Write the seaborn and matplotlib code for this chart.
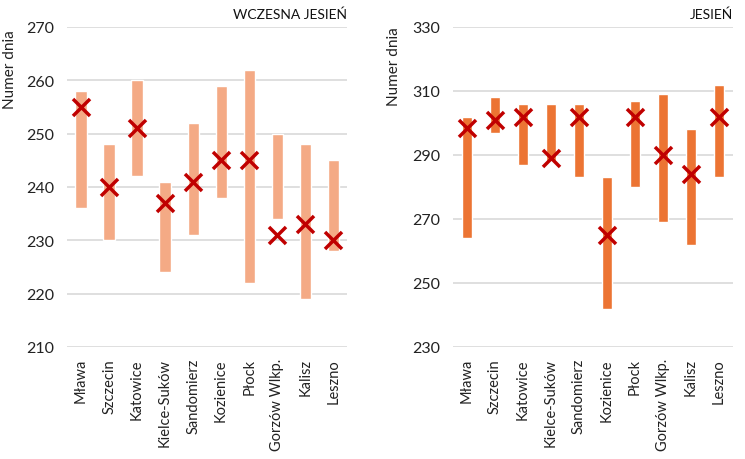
import numpy as np
import pandas as pd
import matplotlib
matplotlib.use("Agg")
import matplotlib.pyplot as plt
import seaborn as sns

stations = ["Mława", "Szczecin", "Katowice", "Kielce-Suków", "Sandomierz",
            "Kozienice", "Płock", "Gorzów Wlkp.", "Kalisz", "Leszno"]

# wczesna jesień: min, max, mean (day of year)
early_min = [236, 230, 242, 224, 231, 238, 222, 234, 219, 228]
early_max = [258, 248, 260, 241, 252, 259, 262, 250, 248, 245]
early_mean = [255, 240, 251, 237, 241, 245, 245, 231, 233, 230]

# jesień
autumn_min = [264, 297, 287, 288, 283, 242, 280, 269, 262, 283]
autumn_max = [302, 308, 306, 306, 306, 283, 307, 309, 298, 312]
autumn_mean = [298.5, 301, 302, 289, 302, 265, 302, 290, 284, 302]

sns.set_style("white")
plt.rcParams['font.family'] = ['Lato', 'DejaVu Sans']

fig = plt.figure(figsize=(7.45, 4.6), dpi=100)
ax1 = fig.add_axes([0.090, 0.2435, 0.376, 0.6957])
ax2 = fig.add_axes([0.608, 0.2435, 0.376, 0.6957])


def draw_panel(ax, lo, hi, mean, color, ylim, step, title, width):
    df = pd.DataFrame({"stacja": stations, "lo": lo, "hi": hi, "mean": mean})
    df["span"] = df["hi"] - df["lo"]
    sns.barplot(data=df, x="stacja", y="span", color=color, width=width,
                saturation=1, ax=ax)
    # przesuwamy słupki, żeby zaczynały się od minimum
    for patch, b in zip(ax.patches, df["lo"]):
        patch.set_y(b)
    sns.scatterplot(data=df, x="stacja", y="mean", marker="x", s=150,
                    color="#C00000", linewidth=2.5, ax=ax, zorder=5)
    ax.set_ylim(*ylim)
    ax.set_xlim(-0.5, len(stations) - 0.5)
    ax.set_yticks(np.arange(ylim[0], ylim[1] + 1, step))
    ax.yaxis.grid(True, color="#D9D9D9", linewidth=1.2)
    ax.set_axisbelow(True)
    sns.despine(ax=ax, left=True, bottom=True)
    ax.tick_params(axis="both", length=0, colors="#222222")
    ax.tick_params(axis="y", pad=9, labelsize=11.5)
    ax.tick_params(axis="x", pad=8, labelsize=10.5)
    plt.setp(ax.get_xticklabels(), rotation=90)
    ax.set_xlabel("")
    ax.set_ylabel("Numer dnia", fontsize=11, color="#222222")
    ax.text(1.0, 1.04, title, transform=ax.transAxes, ha="right", va="center",
            fontsize=10, color="#111111")


draw_panel(ax1, early_min, early_max, early_mean, "#F4AA85", (210, 270), 10,
           "WCZESNA JESIEŃ", 0.40)
ax1.yaxis.set_label_coords(-0.18, 0.87)
draw_panel(ax2, autumn_min, autumn_max, autumn_mean, "#EC7433", (230, 330), 20,
           "JESIEŃ", 0.34)
ax2.yaxis.set_label_coords(-0.186, 0.88)

fig.savefig("out.png", dpi=100)
